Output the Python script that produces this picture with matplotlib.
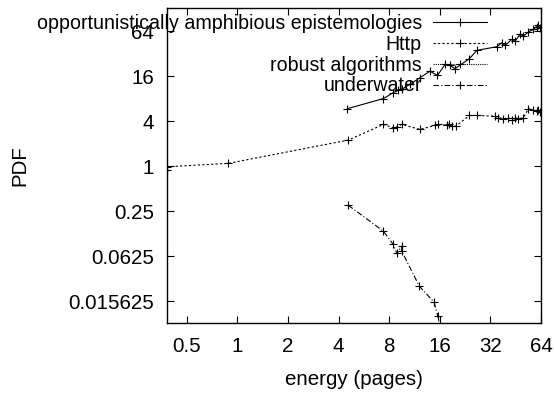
import matplotlib
matplotlib.use('Agg')
import matplotlib.pyplot as plt

plt.rcParams['font.family'] = ['Liberation Sans', 'DejaVu Sans']
plt.rcParams['font.size'] = 14.8

# Values (log2 axes)
SOLID_X = [4.51, 7.39, 8.47, 9.07, 9.5, 10.6, 12.2, 14.0, 15.5, 17.2, 18.4, 19.7, 24.0, 26.6,
           35.0, 37.5, 39.2, 42.9, 44.9, 48.1, 50.3, 53.9, 57.7, 60.4, 61.8, 63.0]
SOLID_Y = [5.86, 8.0, 9.6, 10.3, 10.6, 12.4, 15.2, 18.6, 16.3, 22.9, 22.3, 20.1, 27.3, 35.3,
           39.5, 44.7, 41.0, 49.5, 47.0, 57.8, 54.9, 62.1, 67.5, 73.5, 76.0, 71.0]

HTTP_X = [0.38, 0.884, 4.57, 7.39, 8.47, 8.9, 9.5, 12.2, 15.0, 15.6, 17.6, 18.2, 18.8, 20.0,
          24.0, 26.8, 34.1, 35.7, 38.3, 41.0, 42.9, 44.9, 47.0, 50.3, 53.9, 57.7, 60.4, 61.8, 63.0]
HTTP_Y = [0.98, 1.09, 2.23, 3.61, 3.26, 3.36, 3.61, 3.1, 3.5, 3.61, 3.5, 3.69, 3.43, 3.43,
          4.76, 4.76, 4.66, 4.44, 4.3, 4.44, 4.2, 4.44, 4.3, 4.44, 5.86, 5.6, 5.45, 5.7, 5.28]

ROBUST_X = [0.38]
ROBUST_Y = [0.88]

WATER_X = [4.57, 7.39, 8.47, 8.9, 9.5, 9.5, 12.1, 14.8, 15.6, 16.2]
WATER_Y = [0.30, 0.135, 0.0897, 0.068, 0.085, 0.073, 0.0248, 0.0152, 0.0098, 0.0062]

LABELS = ['opportunistically amphibious epistemologies', 'Http', 'robust algorithms', 'underwater']

X_TICKS = [0.5, 1, 2, 4, 8, 16, 32, 64]
X_LABELS = ['0.5', '1', '2', '4', '8', '16', '32', '64']
Y_TICKS = [0.015625, 0.0625, 0.25, 1, 4, 16, 64]
Y_LABELS = ['0.015625', '0.0625', '0.25', '1', '4', '16', '64']

fig = plt.figure(figsize=(5.54, 3.93), dpi=100)
ax = fig.add_axes([0.3009, 0.1781, 0.6756, 0.8028])

style = dict(color='black', lw=0.8, marker='+', ms=6, mew=0.8)
ax.plot(SOLID_X, SOLID_Y, ls='-', label=LABELS[0], **style)
ax.plot(HTTP_X, HTTP_Y, ls=(0, (2, 2)), label=LABELS[1], **style)
ax.plot(ROBUST_X, ROBUST_Y, ls=(0, (1, 1)), label=LABELS[2], **style)
ax.plot(WATER_X, WATER_Y, ls=(0, (5, 2, 1, 2)), label=LABELS[3], **style)

ax.set_xscale('log', base=2)
ax.set_yscale('log', base=2)
ax.set_xlim(0.38, 64)
ax.set_ylim(0.008, 132)
ax.set_xticks(X_TICKS)
ax.set_xticklabels(X_LABELS)
ax.set_yticks(Y_TICKS)
ax.set_yticklabels(Y_LABELS)
ax.minorticks_off()
ax.tick_params(direction='in', length=5, width=0.8, top=True, right=True)
ax.tick_params(axis='x', pad=10)
ax.tick_params(axis='y', pad=9)
for s in ax.spines.values():
    s.set_linewidth(1.0)

ax.set_xlabel('energy (pages)', labelpad=10)
ax.set_ylabel('PDF', labelpad=28)

ax.legend(loc='upper right', bbox_to_anchor=(0.8785, 0.964), bbox_transform=fig.transFigure,
          frameon=False, markerfirst=False, borderpad=0, borderaxespad=0, fontsize=14.1,
          handlelength=2.75, handletextpad=0.56, labelspacing=0.09)

fig.savefig('out.png', dpi=100)
